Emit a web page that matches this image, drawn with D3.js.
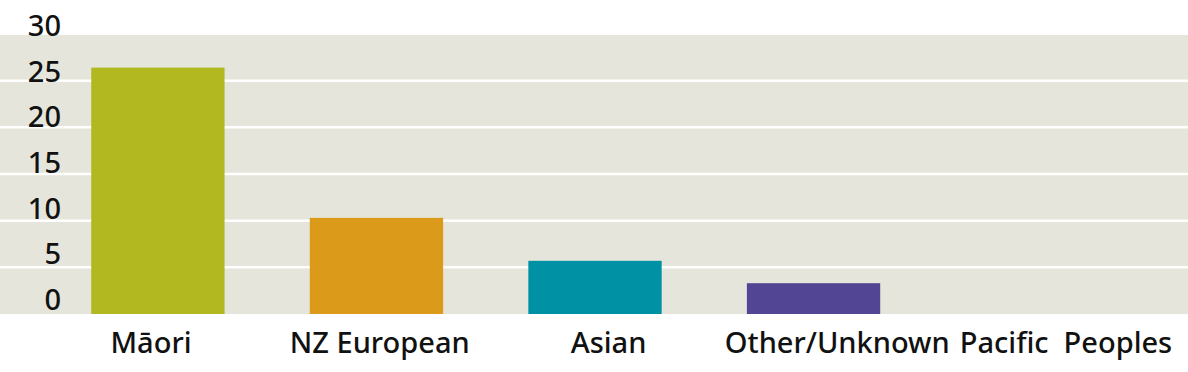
<!DOCTYPE html>
<html>
<head>
<meta charset="utf-8">
<script src="https://cdn.jsdelivr.net/npm/d3@7"></script>
<style>
  body { margin: 0; background: #fff; }
  svg { display: block; }
  text { font-family: "Noto Sans", "Open Sans", sans-serif; font-weight: 500; fill: #111; }
</style>
</head>
<body>
<svg width="1188" height="372"></svg>
<script>
const categories = ["Māori", "NZ European", "Asian", "Other/Unknown", "Pacific  Peoples"];
const values = [26.4, 10.3, 5.7, 3.3, 0];
const colors = ["#b2b820", "#db9a19", "#0092a4", "#524593", "#888"];
const yTicks = [0, 5, 10, 15, 20, 25, 30];

const svg = d3.select("svg");
const width = 1188;

// --- SCALES ---
const x = d3.scaleBand().domain(categories).range([6, 1184]).padding(0.39);
// labels in the original are spaced a bit differently from the bars
const xLabel = d3.scalePoint().domain(categories).range([151, 1066]);
const y = d3.scaleLinear().domain([0, 30]).range([314, 34]);
// tick labels sit a little off the gridlines in the original
const yLabel = d3.scaleLinear().domain([0, 30]).range([310, 36]);

// --- BACKGROUND + GRID ---
svg.append("rect")
  .attr("x", 0).attr("y", y(30) + 1)
  .attr("width", width).attr("height", y(0) - y(30) - 1)
  .attr("fill", "#e5e5db");

svg.append("g")
  .selectAll("line")
  .data(yTicks.filter(d => d > 0 && d < 30))
  .join("line")
  .attr("x1", 0).attr("x2", width)
  .attr("y1", d => y(d)).attr("y2", d => y(d))
  .attr("stroke", "#fff")
  .attr("stroke-width", 2.5);

// --- BARS ---
svg.append("g")
  .selectAll("rect")
  .data(categories)
  .join("rect")
  .attr("x", d => x(d))
  .attr("width", x.bandwidth())
  .attr("y", (d, i) => y(values[i]))
  .attr("height", (d, i) => y(0) - y(values[i]))
  .attr("fill", (d, i) => colors[i]);

// --- Y LABELS ---
svg.append("g")
  .selectAll("text")
  .data(yTicks)
  .join("text")
  .attr("x", 61)
  .attr("y", d => yLabel(d))
  .attr("text-anchor", "end")
  .style("font-size", "29px")
  .text(d => d);

// --- X LABELS ---
svg.append("g")
  .selectAll("text")
  .data(categories)
  .join("text")
  .attr("x", d => xLabel(d))
  .attr("y", 353)
  .attr("text-anchor", "middle")
  .style("font-size", "29px")
  .style("white-space", "pre")
  .text(d => d);
</script>
</body>
</html>
